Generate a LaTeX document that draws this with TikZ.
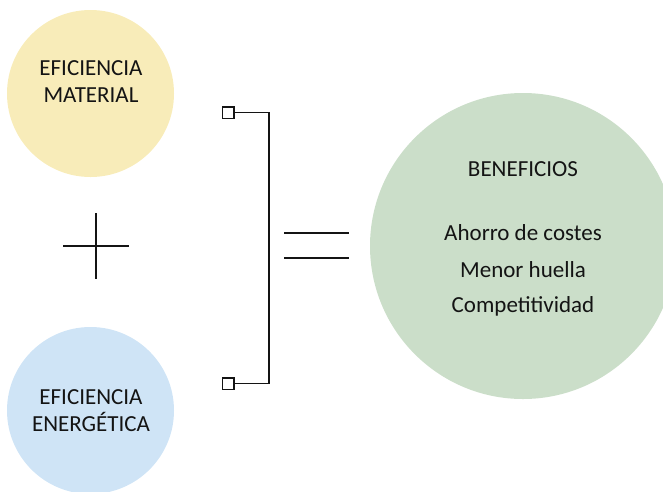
\documentclass[tikz,border=0pt]{standalone}
\usepackage{fontspec}
\setmainfont{Carlito}
\definecolor{cyellow}{RGB}{248,236,185}
\definecolor{cblue}{RGB}{207,228,246}
\definecolor{cgreen}{RGB}{203,222,201}
\definecolor{ink}{RGB}{20,20,20}
\begin{document}
\begin{tikzpicture}[x=1pt,y=-1pt,
  blob/.style={circle,inner sep=0pt,draw=none},
  lbl/.style={text=ink,font=\fontsize{23}{27}\selectfont,align=center,inner sep=0pt},
  marker/.style={rectangle,draw=ink,fill=white,line width=1.5pt,minimum size=11.5pt,inner sep=0pt},
  ln/.style={draw=ink,line width=1.7pt}]
\useasboundingbox (0,0) rectangle (663,491);
\node[blob,fill=cyellow,minimum size=167pt] (mat) at (90.5,93.5) {};
\node[blob,fill=cblue,minimum size=167pt] (ene) at (90.5,410.5) {};
\node[blob,fill=cgreen,minimum size=306pt] (ben) at (523,246) {};
\node[lbl] (matt) at (91,82) {EFICIENCIA\\MATERIAL};
\node[lbl] (enet) at (91,411) {EFICIENCIA\\ENERGÉTICA};
\node[lbl,anchor=base] (b0) at (523,176.5) {BENEFICIOS};
\node[lbl,anchor=base] (b1) at (523,240.5) {Ahorro de costes};
\node[lbl,anchor=base] (b2) at (523,277) {Menor huella};
\node[lbl,anchor=base] (b3) at (523,312.5) {Competitividad};
% plus
\coordinate (pl) at (63,245.7);
\coordinate (pr) at (128.5,245.7);
\coordinate (pt) at (95.7,213);
\coordinate (pb) at (95.7,278.5);
\draw[ln] (pl) -- (pr);
\draw[ln] (pt) -- (pb);
% bracket
\node[marker] (sq1) at (228,112.5) {};
\node[marker] (sq2) at (228,383.5) {};
\coordinate (bt) at (268.8,112.5);
\draw[ln] (sq1.east) -- (bt) |- (sq2.east);
% equals
\coordinate (e1l) at (284,232.7);
\coordinate (e1r) at (348.5,232.7);
\coordinate (e2l) at (284,258.3);
\coordinate (e2r) at (348.5,258.3);
\draw[ln] (e1l) -- (e1r);
\draw[ln] (e2l) -- (e2r);
\end{tikzpicture}
\end{document}
